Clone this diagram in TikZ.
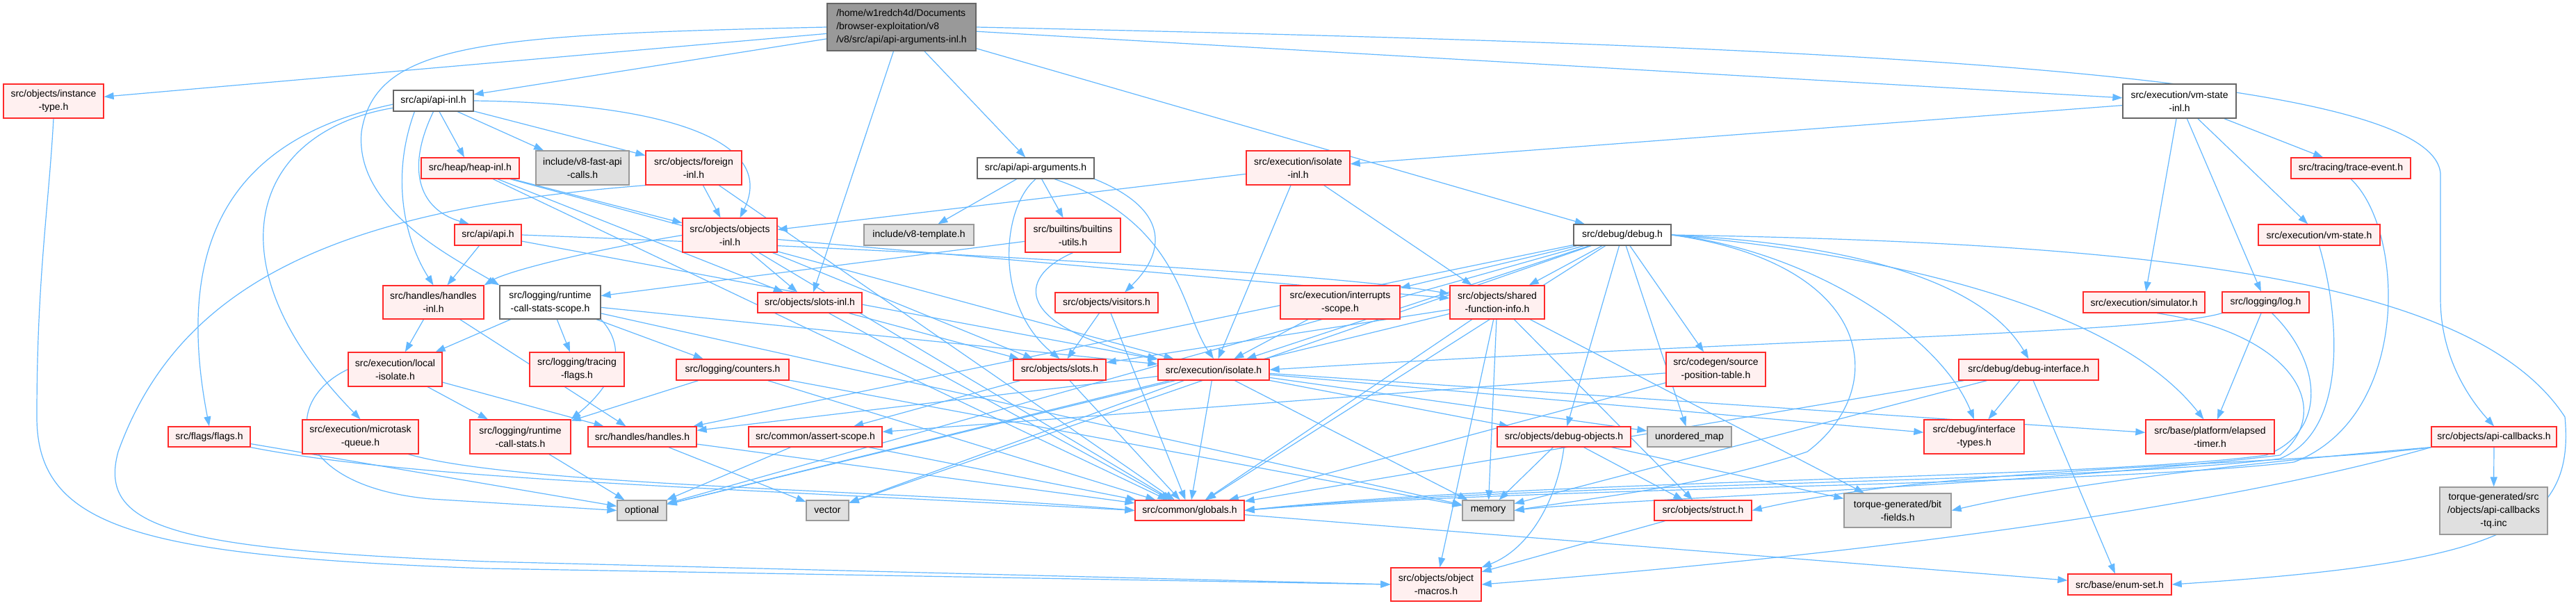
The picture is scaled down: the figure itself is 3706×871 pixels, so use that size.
\documentclass[tikz,border=0pt]{standalone}
\usepackage{fontspec}
\setmainfont{Liberation Sans}
\usetikzlibrary{arrows.meta}
\definecolor{edgeblue}{HTML}{63B8FF}
\definecolor{nodered}{HTML}{FF2A2A}
\definecolor{nodefill}{HTML}{FFF0F0}
\definecolor{rootfill}{HTML}{999999}
\definecolor{darkborder}{HTML}{666666}
\definecolor{extfill}{HTML}{E0E0E0}
\definecolor{extborder}{HTML}{999999}
\newcommand{\dgfont}{\fontsize{14}{19}\selectfont}
\pgfdeclarelayer{bglayer}
\pgfdeclarelayer{edgelayer}
\pgfsetlayers{bglayer,edgelayer,main}
\tikzset{
  box/.style={line width=1.3pt, inner sep=0pt, align=center, font=\dgfont, text=black},
  redn/.style={box, draw=nodered, fill=nodefill},
  whiten/.style={box, draw=darkborder, fill=white},
  extn/.style={box, draw=extborder, fill=extfill},
  rootn/.style={box, draw=darkborder, fill=rootfill, align=left},
  sz/.style 2 args={minimum width=#1pt, minimum height=#2pt},
  dep/.style={draw=edgeblue, line width=1.2pt, -{Triangle[length=14pt,width=10pt]}},
}
\begin{document}
\begin{tikzpicture}[x=1pt, y=-1pt]
\begin{pgfonlayer}{bglayer}
\fill[white] (0,0) rectangle (3706,871);
\end{pgfonlayer}
\useasboundingbox (0,0) rectangle (3706,871);

\node[rootn, sz={214}{68}] (root) at (1297,39) {/home/w1redch4d/Documents\\/browser-exploitation/v8\\/v8/src/api/api-arguments-inl.h};
\node[redn, sz={144}{49}] (instance) at (77,145.5) {src/objects/instance\\-type.h};
\node[whiten, sz={115}{30}] (apiinl) at (623.5,145) {src/api/api-inl.h};
\node[whiten, sz={163}{49}] (vmstateinl) at (3135.5,145.5) {src/execution/vm-state\\-inl.h};
\node[redn, sz={141}{30}] (heapinl) at (676.5,242) {src/heap/heap-inl.h};
\node[extn, sz={134}{49}] (fastapi) at (838,241.5) {include/v8-fast-api\\-calls.h};
\node[redn, sz={138}{49}] (foreign) at (998,241.5) {src/objects/foreign\\-inl.h};
\node[whiten, sz={168}{30}] (apiargs) at (1490,242) {src/api/api-arguments.h};
\node[redn, sz={149}{49}] (isolateinl) at (1867.5,241.5) {src/execution/isolate\\-inl.h};
\node[redn, sz={172}{30}] (trace) at (3382,242) {src/tracing/trace-event.h};
\node[redn, sz={96}{30}] (apih) at (702,338) {src/api/api.h};
\node[redn, sz={136}{49}] (objinl) at (1050,338.5) {src/objects/objects\\-inl.h};
\node[extn, sz={158}{30}] (template) at (1322,338) {include/v8-template.h};
\node[redn, sz={137}{49}] (builtins) at (1543.5,338.5) {src/builtins/builtins\\-utils.h};
\node[whiten, sz={140}{30}] (debug) at (2334,338) {src/debug/debug.h};
\node[redn, sz={175}{30}] (vmstate) at (3336.5,338) {src/execution/vm-state.h};
\node[redn, sz={145}{48}] (handlesinl) at (623.5,435) {src/handles/handles\\-inl.h};
\node[whiten, sz={145}{48}] (rcsscope) at (791.5,435) {src/logging/runtime\\-call-stats-scope.h};
\node[redn, sz={150}{29}] (slotsinl) at (1165,435.5) {src/objects/slots-inl.h};
\node[redn, sz={148}{29}] (visitors) at (1592,435.5) {src/objects/visitors.h};
\node[redn, sz={172}{48}] (interrupts) at (1928,435) {src/execution/interrupts\\-scope.h};
\node[redn, sz={136}{48}] (sfi) at (2154,435) {src/objects/shared\\-function-info.h};
\node[redn, sz={175}{30}] (simulator) at (3084.5,435) {src/execution/simulator.h};
\node[redn, sz={125}{30}] (log) at (3259.5,435) {src/logging/log.h};
\node[redn, sz={135}{49}] (localiso) at (568.5,531.5) {src/execution/local\\-isolate.h};
\node[redn, sz={136}{49}] (tracingflags) at (830,531.5) {src/logging/tracing\\-flags.h};
\node[redn, sz={162}{30}] (counters) at (1054,532) {src/logging/counters.h};
\node[redn, sz={133}{30}] (slots) at (1524.5,532) {src/objects/slots.h};
\node[redn, sz={160}{30}] (isolate) at (1746,532) {src/execution/isolate.h};
\node[redn, sz={143}{49}] (spt) at (2468.5,531.5) {src/codegen/source\\-position-table.h};
\node[redn, sz={201}{30}] (debugif) at (2918.5,532) {src/debug/debug-interface.h};
\node[redn, sz={118}{29}] (flags) at (301,628.5) {src/flags/flags.h};
\node[redn, sz={167}{49}] (microtask) at (518.5,628.5) {src/execution/microtask\\-queue.h};
\node[redn, sz={145}{49}] (rcs) at (748.5,628.5) {src/logging/runtime\\-call-stats.h};
\node[redn, sz={156}{29}] (handles) at (924,628.5) {src/handles/handles.h};
\node[redn, sz={192}{29}] (assert) at (1173,628.5) {src/common/assert-scope.h};
\node[redn, sz={192}{29}] (dbgobj) at (2250,628.5) {src/objects/debug-objects.h};
\node[extn, sz={121}{29}] (umap) at (2430.5,628.5) {unordered\_map};
\node[redn, sz={144}{49}] (iftypes) at (2840,628.5) {src/debug/interface\\-types.h};
\node[redn, sz={185}{49}] (elapsed) at (3179.5,628.5) {src/base/platform/elapsed\\-timer.h};
\node[redn, sz={180}{29}] (apicb) at (3588,628.5) {src/objects/api-callbacks.h};
\node[extn, sz={71}{29}] (optional) at (923.5,734.5) {optional};
\node[extn, sz={61}{29}] (vector) at (1190.5,734.5) {vector};
\node[redn, sz={157}{29}] (globals) at (1711.5,734.5) {src/common/globals.h};
\node[extn, sz={74}{29}] (memory) at (2141,734.5) {memory};
\node[redn, sz={140}{29}] (struct) at (2450,734.5) {src/objects/struct.h};
\node[extn, sz={154}{49}] (bitfields) at (2730,734.5) {torque-generated/bit\\-fields.h};
\node[extn, sz={155}{68}] (tq) at (3587.5,735) {torque-generated/src\\/objects/api-callbacks\\-tq.inc};
\node[redn, sz={130}{48}] (macros) at (2066,841) {src/objects/object\\-macros.h};
\node[redn, sz={149}{30}] (enumset) at (3049.5,841) {src/base/enum-set.h};

\begin{pgfonlayer}{edgelayer}
% root
\draw[dep] (root) -- (instance);
\draw[dep] (root) -- (apiinl);
\draw[dep] (root) -- (apiargs);
\draw[dep] (root) -- (debug);
\draw[dep] (root) -- (vmstateinl);
\draw[dep] (root) -- (slotsinl);
\draw[dep] (root.west) .. controls (700,50) and (540,60) .. (520,190) .. controls (510,300) and (650,370) .. (rcsscope.north west);
\draw[dep] (root.east) .. controls (2600,65) and (3500,100) .. (3511,250) -- (3511,430) .. controls (3511,500) and (3540,560) .. (apicb.north);
% api-inl
\draw[dep] (apiinl) -- (heapinl);
\draw[dep] (apiinl) -- (fastapi);
\draw[dep] (apiinl) -- (foreign);
\draw[dep] (apiinl.east) .. controls (950,148) and (1120,200) .. (objinl.60);
\draw[dep] (apiinl.south) .. controls (585,240) and (600,300) .. (apih.150);
\draw[dep] (apiinl.210) .. controls (560,260) and (585,350) .. (handlesinl.north);
\draw[dep] (apiinl.185) .. controls (330,200) and (250,350) .. (flags.north);
\draw[dep] (apiinl.190) .. controls (360,190) and (300,380) .. (microtask.north);
% heap-inl
\draw[dep] (heapinl) -- (objinl);
\draw[dep] (heapinl) -- (slotsinl);
\draw[dep] (heapinl) -- (isolate);
\draw[dep] (heapinl) -- (globals);
% foreign
\draw[dep] (foreign) -- (objinl);
\draw[dep] (foreign) -- (globals);
\draw[dep] (foreign.200) .. controls (500,300) and (260,400) .. (170,650) .. controls (140,760) and (250,790) .. (700,808) -- (macros.west);
% instance
\draw[dep] (instance.south) .. controls (70,300) and (53,400) .. (53,600) .. controls (53,760) and (200,800) .. (700,818) -- (macros.west);
% api-arguments
\draw[dep] (apiargs) -- (template);
\draw[dep] (apiargs) -- (builtins);
\draw[dep] (apiargs.south east) .. controls (1680,300) and (1680,360) .. (visitors.30);
\draw[dep] (apiargs.south) .. controls (1440,300) and (1430,440) .. (slots.north);
\draw[dep] (apiargs.-30) .. controls (1700,320) and (1700,450) .. (isolate.north);
% isolate-inl
\draw[dep] (isolateinl) -- (objinl);
\draw[dep] (isolateinl) -- (sfi);
\draw[dep] (isolateinl) -- (isolate);
% vm-state-inl
\draw[dep] (vmstateinl) -- (isolateinl);
\draw[dep] (vmstateinl) -- (trace);
\draw[dep] (vmstateinl) -- (vmstate);
\draw[dep] (vmstateinl) -- (simulator);
\draw[dep] (vmstateinl) -- (log);
% bundle on the right
\draw[dep] (trace.south) .. controls (3460,330) and (3470,600) .. (3300,665) .. controls (3000,700) and (2200,700) .. (globals.east);
\draw[dep] (vmstate.south) .. controls (3365,450) and (3380,620) .. (3280,660) .. controls (3000,695) and (2200,695) .. (globals.east);
\draw[dep] (log.-60) .. controls (3340,520) and (3350,620) .. (3260,655) .. controls (3000,690) and (2200,690) .. (globals.east);
\draw[dep] (simulator.-40) .. controls (3300,480) and (3360,590) .. (3280,655) .. controls (2900,700) and (2300,720) .. (memory.east);
% api.h
\draw[dep] (apih) -- (handlesinl);
\draw[dep] (apih.east) .. controls (1200,355) and (1900,390) .. (sfi.170);
\draw[dep] (apih) -- (isolate);
% objects-inl
\draw[dep] (objinl.west) .. controls (850,360) and (730,390) .. (handlesinl.north east);
\draw[dep] (objinl) -- (slotsinl);
\draw[dep] (objinl) -- (sfi);
\draw[dep] (objinl) -- (globals);
\draw[dep] (objinl) -- (slots);
% builtins
\draw[dep] (builtins) -- (rcsscope);
\draw[dep] (builtins.south) .. controls (1460,400) and (1460,470) .. (isolate.north west);
% visitors
\draw[dep] (visitors) -- (slots);
\draw[dep] (visitors) -- (globals);
% debug
\draw[dep] (debug) -- (interrupts);
\draw[dep] (debug) -- (sfi);
\draw[dep] (debug) -- (isolate);
\draw[dep] (debug) -- (spt);
\draw[dep] (debug.east) .. controls (2650,350) and (2850,400) .. (debugif.north);
\draw[dep] (debug.east) .. controls (2600,360) and (2790,480) .. (iftypes.north);
\draw[dep] (debug) -- (dbgobj);
\draw[dep] (debug) -- (umap);
\draw[dep] (debug.east) .. controls (2700,380) and (2720,560) .. (2600,650) .. controls (2450,700) and (2300,715) .. (memory.east);
\draw[dep] (debug) -- (vector);
\draw[dep] (debug) -- (optional);
\draw[dep] (debug) -- (globals);
\draw[dep] (debug.east) .. controls (2750,370) and (3050,450) .. (elapsed.110);
\draw[dep] (debug.east) .. controls (3100,350) and (3560,400) .. (3690,600) .. controls (3705,760) and (3600,810) .. (enumset.east);
\draw[dep] (debug) -- (handles);
% handles-inl
\draw[dep] (handlesinl) -- (localiso);
\draw[dep] (handlesinl) -- (handles);
% runtime-call-stats-scope
\draw[dep] (rcsscope) -- (localiso);
\draw[dep] (rcsscope) -- (tracingflags);
\draw[dep] (rcsscope) -- (counters);
\draw[dep] (rcsscope.south east) .. controls (920,520) and (850,580) .. (rcs.north east);
\draw[dep] (rcsscope) -- (isolate);
\draw[dep] (rcsscope) -- (memory);
% slots-inl
\draw[dep] (slotsinl) -- (slots);
\draw[dep] (slotsinl) -- (globals);
% interrupts
\draw[dep] (interrupts) -- (isolate);
% shared-function-info
\draw[dep] (sfi) -- (memory);
\draw[dep] (sfi) -- (optional);
\draw[dep] (sfi) -- (globals);
\draw[dep] (sfi) -- (slots);
\draw[dep] (sfi) -- (struct);
\draw[dep] (sfi) -- (bitfields);
\draw[dep] (sfi) -- (macros);
% log
\draw[dep] (log.south west) .. controls (3100,480) and (2500,490) .. (isolate.east);
\draw[dep] (log) -- (elapsed);
% local-isolate
\draw[dep] (localiso.west) .. controls (400,580) and (420,700) .. (620,718) -- (optional.west);
\draw[dep] (localiso) -- (rcs);
\draw[dep] (localiso) -- (handles);
% runtime-call-stats
\draw[dep] (rcs) -- (optional);
% counters
\draw[dep] (counters) -- (rcs);
\draw[dep] (counters) -- (globals);
\draw[dep] (counters) -- (memory);
% slots
\draw[dep] (slots) -- (assert);
\draw[dep] (slots) -- (globals);
% isolate
\draw[dep] (isolate) -- (memory);
\draw[dep] (isolate) -- (optional);
\draw[dep] (isolate) -- (umap);
\draw[dep] (isolate) -- (vector);
\draw[dep] (isolate) -- (globals);
\draw[dep] (isolate) -- (handles);
\draw[dep] (isolate) -- (dbgobj);
\draw[dep] (isolate) -- (iftypes);
\draw[dep] (isolate) -- (elapsed);
% source-position-table
\draw[dep] (spt) -- (assert);
\draw[dep] (spt) -- (globals);
% debug-interface
\draw[dep] (debugif) -- (iftypes);
\draw[dep] (debugif) -- (memory);
\draw[dep] (debugif) -- (globals);
\draw[dep] (debugif) -- (enumset);
% debug-objects
\draw[dep] (dbgobj) -- (memory);
\draw[dep] (dbgobj) -- (struct);
\draw[dep] (dbgobj) -- (bitfields);
\draw[dep] (dbgobj.south) .. controls (2240,720) and (2200,790) .. (macros.north east);
% handles
\draw[dep] (handles) -- (vector);
\draw[dep] (handles) -- (globals);
% assert-scope
\draw[dep] (assert) -- (optional);
\draw[dep] (assert) -- (globals);
% flags
\draw[dep] (flags) -- (optional);
\draw[dep] (flags.south east) .. controls (600,690) and (1000,700) .. (globals.west);
% microtask
\draw[dep] (microtask.-20) .. controls (750,700) and (1300,705) .. (globals.west);
% globals
\draw[dep] (globals) -- (enumset);
% struct
\draw[dep] (struct) -- (macros);
% api-callbacks
\draw[dep] (apicb) -- (tq);
\draw[dep] (apicb.south west) .. controls (3300,670) and (2800,670) .. (struct.east);
\draw[dep] (apicb.south west) .. controls (3300,660) and (3000,690) .. (bitfields.east);
\draw[dep] (apicb.south west) .. controls (3300,700) and (2900,780) .. (macros.east);
\end{pgfonlayer}
\end{tikzpicture}
\end{document}
